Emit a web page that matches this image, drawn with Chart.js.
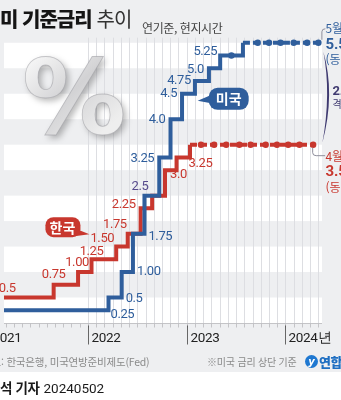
<!DOCTYPE html>
<html lang="ko">
<head>
<meta charset="utf-8">
<script src="https://cdn.jsdelivr.net/npm/chart.js@4.4.1/dist/chart.umd.min.js"></script>
<style>
  html, body { margin: 0; padding: 0; }
  body { width: 341px; height: 400px; overflow: hidden; font-family: "Noto Sans CJK KR", "Noto Sans", sans-serif; }
  #wrap { position: relative; width: 341px; height: 400px; background: #eeeff1; overflow: hidden; }
  #chart { position: absolute; left: 0; top: 0; }
  .txt { position: absolute; white-space: nowrap; }
  .title { left: 0; top: 6px; font-size: 20px; line-height: 26px; letter-spacing: -1px; color: #151515; }
  .title b { font-weight: 900; }
  .title span { font-weight: 400; color: #333; margin-left: 5px; }
  .sub { left: 142px; top: 20px; font-size: 12px; line-height: 16px; color: #444; letter-spacing: -0.4px; }
  .src { left: -18px; top: 354px; font-size: 10.5px; line-height: 16px; color: #8a8a8a; letter-spacing: -0.2px; }
  .note { left: 207px; top: 354px; font-size: 10px; line-height: 16px; color: #8a8a8a; letter-spacing: -0.2px; }
  .logo { left: 305px; top: 355px; width: 13px; height: 13px; border-radius: 50%; background: #1f78d1; color: #fff;
          font: italic 700 10px/13px "DejaVu Sans", sans-serif; text-align: center; }
  .logo2 { left: 319px; top: 353px; font-size: 13px; line-height: 17px; font-weight: 900; color: #1f6fc2; letter-spacing: -0.5px; }
  .strip { position: absolute; left: 0; top: 372px; width: 341px; height: 28px; background: #fff; }
  .byline { left: 0; top: 378px; font-size: 13.5px; line-height: 18px; color: #1a1a1a; letter-spacing: -0.4px; }
  .byline b { font-weight: 700; }
  .byline span { font-family: Roboto, sans-serif; margin-left: 4px; letter-spacing: 0; }
</style>
</head>
<body>
<div id="wrap">
  <div class="strip"></div>
  <canvas id="chart" width="341" height="400"></canvas>
  <div class="txt title"><b>미 기준금리</b><span>추이</span></div>
  <div class="txt sub">연기준, 현지시간</div>
  <div class="txt src">자료: 한국은행, 미국연방준비제도(Fed)</div>
  <div class="txt note">※미국 금리 상단 기준</div>
  <div class="txt logo">y</div>
  <div class="txt logo2">연합</div>
  <div class="txt byline"><b>석 기자</b><span>20240502</span></div>
</div>
<script>
// 데이터 (결정일, 금리 %)
const usDates = ['2020-03-15', '2022-03-16', '2022-05-04', '2022-06-15', '2022-07-27', '2022-09-21', '2022-11-02',
                 '2022-12-14', '2023-02-01', '2023-03-22', '2023-05-03', '2023-06-14', '2023-07-26', '2023-09-20',
                 '2023-11-01', '2023-12-13', '2024-01-31', '2024-03-20', '2024-05-01'];
const usRates = [0.25, 0.5, 1.0, 1.75, 2.5, 3.25, 4.0, 4.5, 4.75, 5.0, 5.25, 5.25, 5.5, 5.5, 5.5, 5.5, 5.5, 5.5, 5.5];
const krDates = ['2020-05-28', '2021-08-26', '2021-11-25', '2022-01-14', '2022-04-14', '2022-05-26', '2022-07-13',
                 '2022-08-25', '2022-10-12', '2022-11-24', '2023-01-13', '2023-02-23', '2023-04-11', '2023-05-25',
                 '2023-07-13', '2023-08-24', '2023-10-19', '2023-11-30', '2024-01-11', '2024-02-22', '2024-04-12'];
const krRates = [0.5, 0.75, 1.0, 1.25, 1.5, 1.75, 2.25, 2.5, 3.0, 3.25, 3.5, 3.5, 3.5, 3.5, 3.5, 3.5, 3.5, 3.5, 3.5, 3.5, 3.5];
const usLabels = ['0.25', '0.5', '1.00', '1.75', '2.5', '3.25', '4.0', '4.5', '4.75', '5.0', '5.25'];
const krLabels = ['0.5', '0.75', '1.00', '1.25', '1.50', '1.75', '2.25', '3.0', '3.25'];
const years = [2021, 2022, 2023, 2024];
const yearLabels = ['2021', '2022', '2023', '2024년'];

const BLUE = '#2f5e9c', RED = '#c8372e', PURPLE = '#574a8c';

// 라벨 위치 (스타일)
const usLabelStyle = [
  { at: 'end', dx: 2, dy: 4, align: 'left' },
  { at: 'end', dx: 4, dy: 1, align: 'left' },
  { at: 'end', dx: 4, dy: 0, align: 'left' },
  { at: 'end', dx: 4, dy: 3, align: 'left' },
  { at: 'start', dx: 4, dy: -9, align: 'right', color: PURPLE },
  { at: 'start', dx: -5, dy: 1, align: 'right' },
  { at: 'start', dx: -5, dy: 1, align: 'right' },
  { at: 'start', dx: -5, dy: 0, align: 'right' },
  { at: 'start', dx: -4, dy: 0, align: 'right' },
  { at: 'start', dx: -5, dy: 1, align: 'right' },
  { at: 'start', dx: -3, dy: -4, align: 'right' }
];
const krLabelStyle = [
  { at: 'end', dx: -38, dy: -9, align: 'right' },
  { at: 'start', dx: 0, dy: -10, align: 'center' },
  { at: 'start', dx: -1, dy: -9, align: 'center' },
  { at: 'start', dx: 0, dy: -8, align: 'center' },
  { at: 'start', dx: -2, dy: -8, align: 'right' },
  { at: 'start', dx: -1, dy: -9, align: 'right' },
  { at: 'start', dx: -5, dy: -4, align: 'right' },
  { at: 'start', dx: 5, dy: 5, align: 'left' },
  { at: 'start', dx: 12, dy: 6, align: 'left' }
];

function toMonth(s) {
  const [yy, mm, dd] = s.split('-').map(Number);
  return (yy - 2021) * 12 + (mm - 1) + (dd - 1) / 30;
}
function lastChange(rates) {
  let k = 0;
  rates.forEach((r, i) => { if (i > 0 && r !== rates[i - 1]) k = i; });
  return k;
}
function isHold(rates, i) {
  return i > 0 && rates[i] === rates[i - 1];
}
function makeSet(label, dates, rates, color) {
  const lc = lastChange(rates);
  return {
    label: label,
    data: dates.map((d, i) => ({ x: toMonth(d), y: rates[i] })),
    borderColor: color,
    backgroundColor: color,
    borderWidth: 4,
    stepped: 'before',
    borderCapStyle: 'butt',
    borderJoinStyle: 'miter',
    pointRadius: c => isHold(rates, c.dataIndex) ? 3.2 : 0,
    pointBorderWidth: 0,
    segment: {
      borderDash: c => c.p0DataIndex >= lc ? [7, 3] : undefined
    }
  };
}

function roundRect(ctx, x, y, w, h, r) {
  ctx.beginPath();
  ctx.moveTo(x + r, y);
  ctx.arcTo(x + w, y, x + w, y + h, r);
  ctx.arcTo(x + w, y + h, x, y + h, r);
  ctx.arcTo(x, y + h, x, y, r);
  ctx.arcTo(x, y, x + w, y, r);
  ctx.closePath();
}

function drawRateLabels(ctx, x, y, dates, rates, labels, styles, color) {
  ctx.font = '13px Roboto';
  ctx.letterSpacing = '-0.4px';
  ctx.textBaseline = 'middle';
  labels.forEach((txt, k) => {
    const val = parseFloat(txt);
    const i = rates.indexOf(val);
    const s = styles[k];
    const m = s.at === 'end' ? toMonth(dates[i + 1]) : toMonth(dates[i]);
    ctx.fillStyle = s.color || color;
    ctx.textAlign = s.align;
    ctx.fillText(txt, x.getPixelForValue(m) + s.dx, y.getPixelForValue(val) + s.dy);
  });
}

const backdrop = {
  id: 'backdrop',
  beforeDatasetsDraw(chart) {
    const { ctx, chartArea: a, scales: { x, y } } = chart;
    ctx.save();
    // 흰 띠
    ctx.fillStyle = '#ffffff';
    for (let v = 0; v < 5.5; v += 1) {
      const t = y.getPixelForValue(v + 0.5), b = y.getPixelForValue(v);
      ctx.fillRect(a.left, t, a.right - a.left, b - t);
    }
    // 월별 세로선
    ctx.strokeStyle = '#dddee2';
    ctx.lineWidth = 1;
    for (let m = 12; m <= 40; m++) {
      const px = Math.round(x.getPixelForValue(m)) + 0.5;
      ctx.beginPath();
      ctx.moveTo(px, y.getPixelForValue(0));
      ctx.lineTo(px, y.getPixelForValue(5.6));
      ctx.stroke();
    }
    // % 그래픽
    ctx.font = '900 104px "DejaVu Sans"';
    ctx.textAlign = 'left';
    ctx.textBaseline = 'alphabetic';
    const g = ctx.createLinearGradient(30, 60, 100, 135);
    g.addColorStop(0, '#f6f6f6');
    g.addColorStop(0.5, '#d2d2d4');
    g.addColorStop(1, '#eeeeee');
    ctx.shadowColor = 'rgba(0,0,0,0.28)';
    ctx.shadowBlur = 6;
    ctx.shadowOffsetX = 3;
    ctx.shadowOffsetY = 3;
    ctx.fillStyle = g;
    ctx.fillText('%', 22, 134);
    ctx.shadowColor = 'transparent';
    ctx.strokeStyle = 'rgba(150,150,155,0.5)';
    ctx.lineWidth = 0.8;
    ctx.strokeText('%', 22, 134);
    // x축
    const y0 = Math.round(y.getPixelForValue(0)) + 0.5;
    ctx.strokeStyle = '#b9b9bd';
    ctx.beginPath();
    ctx.moveTo(a.left, y0);
    ctx.lineTo(a.right, y0);
    ctx.stroke();
    for (let m = 0; m <= 40; m++) {
      const px = Math.round(x.getPixelForValue(m)) + 0.5;
      ctx.beginPath();
      ctx.moveTo(px, y0);
      ctx.lineTo(px, y0 + 4);
      ctx.stroke();
    }
    ctx.strokeStyle = '#444';
    ctx.fillStyle = '#222';
    ctx.font = '13.5px Roboto';
    ctx.letterSpacing = '-0.3px';
    ctx.textBaseline = 'middle';
    years.forEach((yr, i) => {
      const px = Math.round(x.getPixelForValue((yr - 2021) * 12)) + 0.5;
      ctx.beginPath();
      ctx.moveTo(px, y0 + 2);
      ctx.lineTo(px, y0 + 21);
      ctx.stroke();
      ctx.fillText(yearLabels[i], px + 3, y0 + 15);
    });
    ctx.restore();
  },
  afterDatasetsDraw(chart) {
    const { ctx, scales: { x, y } } = chart;
    ctx.save();
    drawRateLabels(ctx, x, y, usDates, usRates, usLabels, usLabelStyle, BLUE);
    drawRateLabels(ctx, x, y, krDates, krRates, krLabels, krLabelStyle, RED);

    // 말풍선
    ctx.letterSpacing = '0px';
    const ux = x.getPixelForValue(29.1), uy = y.getPixelForValue(4.4);
    ctx.fillStyle = BLUE;
    roundRect(ctx, ux - 20, uy - 11, 40, 22, 9);
    ctx.fill();
    ctx.beginPath();
    ctx.moveTo(ux - 17, uy - 4);
    ctx.lineTo(ux - 31, uy + 2);
    ctx.lineTo(ux - 15, uy + 5);
    ctx.fill();
    ctx.fillStyle = '#fff';
    ctx.font = '700 14px "Noto Sans CJK KR"';
    ctx.textAlign = 'center';
    ctx.textBaseline = 'middle';
    ctx.fillText('미국', ux, uy);

    const kx = x.getPixelForValue(8.9), ky = y.getPixelForValue(1.88);
    ctx.fillStyle = RED;
    roundRect(ctx, kx - 17, ky - 10, 35, 20, 8);
    ctx.fill();
    ctx.beginPath();
    ctx.moveTo(kx + 12, ky + 1);
    ctx.lineTo(kx + 27, ky + 7);
    ctx.lineTo(kx + 12, ky + 9);
    ctx.fill();
    ctx.fillStyle = '#fff';
    ctx.fillText('한국', kx, ky);

    // 오른쪽 주석
    const ul = usDates.length - 1, kl = krDates.length - 1;
    const uex = x.getPixelForValue(toMonth(usDates[ul])), uey = y.getPixelForValue(usRates[ul]);
    const kex = x.getPixelForValue(toMonth(krDates[kl])), key = y.getPixelForValue(krRates[kl]);
    ctx.strokeStyle = '#8f8f9c';
    ctx.lineWidth = 1;
    ctx.beginPath();
    ctx.moveTo(uex + 3.5, uey - 3);
    ctx.lineTo(uex + 3.5, uey - 11);
    ctx.quadraticCurveTo(uex + 3.5, uey - 14, uex + 7, uey - 14);
    ctx.stroke();
    ctx.beginPath();
    ctx.moveTo(kex - 0.5, key + 3);
    ctx.lineTo(kex - 0.5, key + 8);
    ctx.quadraticCurveTo(kex - 0.5, key + 11, kex + 3, key + 11);
    ctx.lineTo(kex + 12, key + 11);
    ctx.stroke();

    // 괄호
    ctx.fillStyle = '#3f3a70';
    ctx.beginPath();
    ctx.moveTo(uex + 5, uey + 9);
    ctx.quadraticCurveTo(uex + 17, (uey + key) / 2, uex + 4, key - 2);
    ctx.quadraticCurveTo(uex + 13, (uey + key) / 2, uex + 5, uey + 9);
    ctx.fill();

    ctx.textAlign = 'left';
    ctx.textBaseline = 'middle';
    const tx = uex + 7;
    ctx.fillStyle = BLUE;
    ctx.font = '12px "Noto Sans CJK KR"';
    ctx.fillText('5월', tx, uey - 14);
    ctx.font = '700 15px Roboto';
    ctx.fillText(usRates[ul].toFixed(1), tx, uey + 2);
    ctx.font = '12px "Noto Sans CJK KR"';
    ctx.fillText('(동결)', tx, uey + 17);

    ctx.fillStyle = '#3f3a70';
    ctx.font = '700 13px Roboto';
    ctx.fillText((usRates[ul] - krRates[kl]).toFixed(1) + '%p', tx + 7, (uey + key) / 2 - 2);
    ctx.font = '10px "Noto Sans CJK KR"';
    ctx.fillText('격차', tx + 7, (uey + key) / 2 + 10);

    ctx.fillStyle = RED;
    ctx.font = '12px "Noto Sans CJK KR"';
    ctx.fillText('4월', tx, key + 12);
    ctx.font = '700 15px Roboto';
    ctx.fillText(krRates[kl].toFixed(1), tx, key + 28);
    ctx.font = '12px "Noto Sans CJK KR"';
    ctx.fillText('(동결)', tx, key + 43);
    ctx.restore();
  }
};

new Chart(document.getElementById('chart'), {
  type: 'line',
  data: {
    datasets: [
      makeSet('미국', usDates, usRates, BLUE),
      makeSet('한국', krDates, krRates, RED)
    ]
  },
  options: {
    responsive: false,
    animation: false,
    events: [],
    layout: { padding: { left: 0, right: 19, top: 17.3, bottom: 77 } },
    plugins: { legend: { display: false }, tooltip: { enabled: false } },
    scales: {
      x: { type: 'linear', min: 1.8, max: 40.44, display: false },
      y: { min: 0, max: 6, display: false }
    }
  },
  plugins: [backdrop]
});
</script>
</body>
</html>
